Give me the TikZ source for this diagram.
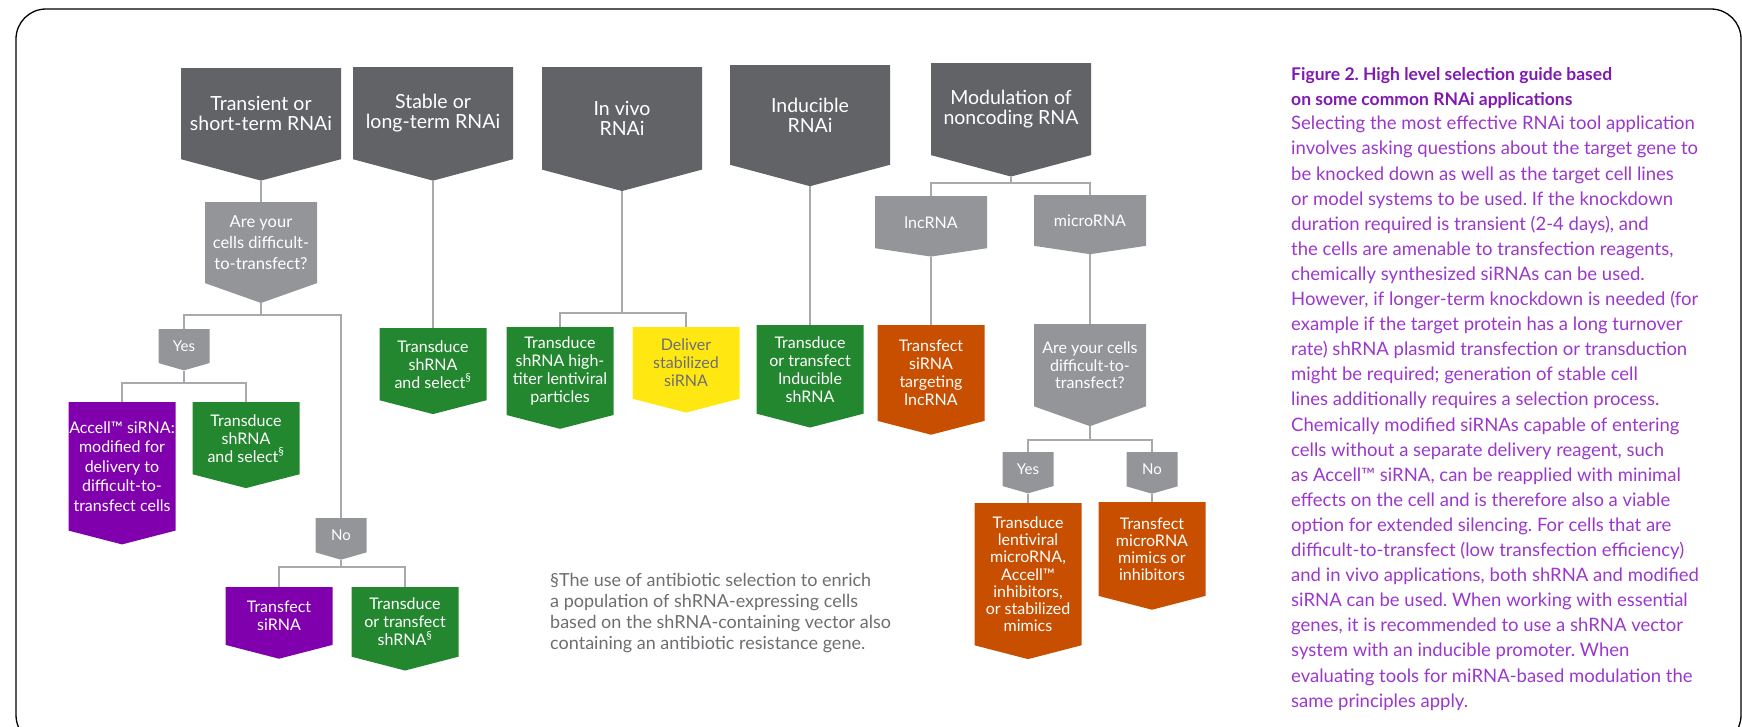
\documentclass[tikz,border=0pt]{standalone}
\usepackage{fontspec}
\setmainfont{Lato}
\usetikzlibrary{shapes.symbols}
\frenchspacing

\definecolor{hdrgray}{RGB}{98,99,102}
\definecolor{askgray}{RGB}{147,149,152}
\definecolor{leafgreen}{RGB}{34,135,46}
\definecolor{leafpurple}{RGB}{128,0,174}
\definecolor{leafyellow}{RGB}{255,232,18}
\definecolor{leaforange}{RGB}{200,78,0}
\definecolor{linegray}{RGB}{167,169,172}
\definecolor{notegray}{RGB}{109,110,113}
\definecolor{titleviolet}{RGB}{128,25,178}
\definecolor{bodyviolet}{RGB}{155,55,205}

\begin{document}
\begin{tikzpicture}[x=1pt, y=-1pt,
    box/.style={signal, signal to=south, inner sep=0pt, anchor=north, align=center, text=white},
    header/.style={box, fill=hdrgray, minimum width=160, minimum height=110,
        signal pointer angle=150, font=\fontsize{19.5}{20}\selectfont},
    ask/.style={box, fill=askgray, minimum width=112, signal pointer angle=141,
        font=\fontsize{16.5}{21}\selectfont},
    answer/.style={box, fill=askgray, minimum width=51, minimum height=37,
        signal pointer angle=148, font=\fontsize{15}{18}\selectfont},
    leaf/.style={box, fill=#1, minimum width=107, signal pointer angle=151,
        font=\fontsize{16}{18}\selectfont},
    link/.style={draw=linegray, line width=1.5pt}]

    \useasboundingbox (0,0) rectangle (1742,726);
    \draw[line width=1.3pt, rounded corners=30] (16,9) rectangle (1741,745);

    % top row
    \node[header] (trans) at (261,68) {Transient or\\short-term RNAi};
    \node[header] (stab) at (433,67) {Stable or\\long-term RNAi};
    \node[header] (vivo) at (622,67) {In vivo\\RNAi};
    \node[header] (induc) at (810,65) {Inducible\\RNAi};
    \node[header] (ncrna) at (1011,63) {Modulation of\\noncoding RNA};

    % transient
    \node[ask, minimum height=98] (ask1) at (261,202) {Are your\\cells difficult-\\to-transfect?};
    \node[answer] (yes1) at (184,329) {Yes};
    \node[answer] (no1) at (341,518) {No};
    \node[leaf=leafpurple, minimum height=142, font=\fontsize{16}{19.5}\selectfont] (accell) at (122,402)
        {Accell™ siRNA:\\modified for\\delivery to\\difficult-to-\\transfect cells};
    \node[leaf=leafgreen, minimum height=82] (sel1) at (246,402) {Transduce\\shRNA\\and select\textsuperscript{§}};
    \node[leaf=leafpurple, minimum height=66] (sirna) at (279,587) {Transfect\\siRNA};
    \node[leaf=leafgreen, minimum height=80] (shrna) at (405,587) {Transduce\\or transfect\\shRNA\textsuperscript{§}};

    % stable, in vivo, inducible
    \node[leaf=leafgreen, minimum height=82] (sel2) at (433,328) {Transduce\\shRNA\\and select\textsuperscript{§}};
    \node[leaf=leafgreen, minimum height=100] (lenti) at (560,327) {Transduce\\shRNA high-\\titer lentiviral\\particles};
    \node[leaf=leafyellow, minimum height=80, text=notegray] (deliv) at (686,327) {Deliver\\stabilized\\siRNA};
    \node[leaf=leafgreen, minimum height=99] (indsh) at (810,325) {Transduce\\or transfect\\Inducible\\shRNA};

    % noncoding
    \node[ask, minimum height=56, signal pointer angle=163, font=\fontsize{16}{18}\selectfont] (lnc) at (931,196) {lncRNA};
    \node[ask, minimum height=56, signal pointer angle=163, font=\fontsize{16}{18}\selectfont] (mir) at (1090,195) {microRNA};
    \node[leaf=leaforange, minimum height=104] (tlnc) at (931,325) {Transfect\\siRNA\\targeting\\lncRNA};
    \node[ask, minimum height=99, font=\fontsize{16}{17.5}\selectfont] (ask2) at (1090,324) {Are your cells\\difficult-to-\\transfect?};
    \node[answer] (yes2) at (1028,452) {Yes};
    \node[answer] (no2) at (1152,452) {No};
    \node[leaf=leaforange, minimum height=153, font=\fontsize{16}{17.2}\selectfont] (lmir) at (1028,503)
        {Transduce\\lentiviral\\microRNA,\\Accell™\\inhibitors,\\or stabilized\\mimics};
    \node[leaf=leaforange, minimum height=103, font=\fontsize{16}{17.2}\selectfont] (mimic) at (1152,502) {Transfect\\microRNA\\mimics or\\inhibitors};

    % connectors
    \coordinate (split1) at (261,315);
    \coordinate (split2) at (184,383);
    \coordinate (split3) at (341,567);
    \coordinate (split4) at (622,313);
    \coordinate (split5) at (1011,183);
    \coordinate (split6) at (1090,440);
    \draw[link] (trans.south) -- (ask1.north);
    \draw[link] (ask1.south) -- (split1) -| (yes1.north);
    \draw[link] (split1) -| (no1.north);
    \draw[link] (yes1.south) -- (split2) -| (accell.north);
    \draw[link] (split2) -| (sel1.north);
    \draw[link] (no1.south) -- (split3) -| (sirna.north);
    \draw[link] (split3) -| (shrna.north);
    \draw[link] (stab.south) -- (sel2.north);
    \draw[link] (vivo.south) -- (split4) -| (lenti.north);
    \draw[link] (split4) -| (deliv.north);
    \draw[link] (induc.south) -- (indsh.north);
    \draw[link] (ncrna.south) -- (split5) -| (lnc.north);
    \draw[link] (split5) -| (mir.north);
    \draw[link] (lnc.south) -- (tlnc.north);
    \draw[link] (mir.south) -- (ask2.north);
    \draw[link] (ask2.south) -- (split6) -| (yes2.north);
    \draw[link] (split6) -| (no2.north);
    \draw[link] (yes2.south) -- (lmir.north);
    \draw[link] (no2.south) -- (mimic.north);

    % footnote
    \node[anchor=north west, inner sep=0pt, align=left, text=notegray,
        font=\fontsize{18}{21}\selectfont] (note) at (550,573)
        {§The use of antibiotic selection to enrich\\a population of shRNA-expressing cells\\based on the shRNA-containing vector also\\containing an antibiotic resistance gene.};

    % caption
    \node[anchor=north west, inner sep=0pt, align=left, text=titleviolet,
        font=\fontsize{17.5}{25.1}\selectfont\bfseries] (title) at (1291,67)
        {Figure 2. High level selection guide based\\on some common RNAi applications};
    \node[anchor=north west, inner sep=0pt, align=left, text=bodyviolet,
        font=\fontsize{18.5}{25.1}\selectfont] (body) at (1291,116)
        {Selecting the most effective RNAi tool application\\
        involves asking questions about the target gene to\\
        be knocked down as well as the target cell lines\\
        or model systems to be used. If the knockdown\\
        duration required is transient (2-4 days), and\\
        the cells are amenable to transfection reagents,\\
        chemically synthesized siRNAs can be used.\\
        However, if longer-term knockdown is needed (for\\
        example if the target protein has a long turnover\\
        rate) shRNA plasmid transfection or transduction\\
        might be required; generation of stable cell\\
        lines additionally requires a selection process.\\
        Chemically modified siRNAs capable of entering\\
        cells without a separate delivery reagent, such\\
        as Accell™ siRNA, can be reapplied with minimal\\
        effects on the cell and is therefore also a viable\\
        option for extended silencing. For cells that are\\
        difficult-to-transfect (low transfection efficiency)\\
        and in vivo applications, both shRNA and modified\\
        siRNA can be used. When working with essential\\
        genes, it is recommended to use a shRNA vector\\
        system with an inducible promoter. When\\
        evaluating tools for miRNA-based modulation the\\
        same principles apply.};
\end{tikzpicture}
\end{document}
